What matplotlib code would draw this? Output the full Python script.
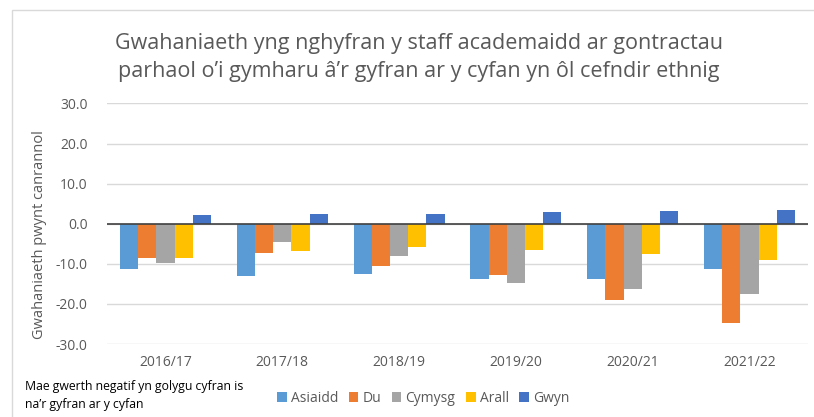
import numpy as np
import matplotlib
matplotlib.use("Agg")
import matplotlib.pyplot as plt
from matplotlib.patches import Rectangle

# data
years = ["2016/17", "2017/18", "2018/19", "2019/20", "2020/21", "2021/22"]
series_names = ["Asiaidd", "Du", "Cymysg", "Arall", "Gwyn"]
asiaidd = [-11.2, -13.1, -12.5, -13.7, -13.7, -11.4]
du = [-8.6, -7.4, -10.6, -12.8, -18.9, -24.7]
cymysg = [-9.9, -4.6, -8.1, -14.9, -16.2, -17.5]
arall = [-8.5, -6.8, -5.8, -6.6, -7.5, -9.0]
gwyn = [2.1, 2.3, 2.4, 2.9, 3.1, 3.3]
colors = ["#5B9BD5", "#ED7D31", "#A5A5A5", "#FFC000", "#4472C4"]

plt.rcParams['font.family'] = ['Open Sans', 'DejaVu Sans']
txt = "#595959"

fig = plt.figure(figsize=(8.14, 4.17), dpi=100)
ax = fig.add_axes([0.1315, 0.175, 0.8611, 0.577])

x = np.arange(len(years))
w = 0.156
for i, (vals, name, c) in enumerate(zip([asiaidd, du, cymysg, arall, gwyn], series_names, colors)):
    ax.bar(x + (i - 2) * w, vals, w, color=c, label=name, zorder=2)

ax.set_xlim(-0.5, len(years) - 0.5)
ax.set_ylim(-30, 30)
ax.set_yticks(np.arange(-30, 31, 10))
ax.set_yticklabels([f"{v:.1f}" for v in np.arange(-30, 31, 10)])
ax.set_xticks(x)
ax.set_xticklabels(years)
ax.tick_params(length=0, colors=txt, labelsize=10)
ax.tick_params(axis='y', pad=14)
ax.tick_params(axis='x', pad=8)
ax.grid(axis='y', color="#D9D9D9", linewidth=1, zorder=0)
ax.axhline(0, color="#404040", linewidth=1.2, zorder=3)
for s in ax.spines.values():
    s.set_visible(False)

fig.text(0.515, 0.862, "Gwahaniaeth yng nghyfran y staff academaidd ar gontractau\n"
         "parhaol o\u2019i gymharu \u00e2\u2019r gyfran ar y cyfan yn \u00f4l cefndir ethnig",
         ha="center", va="center", fontsize=15.5, color=txt, linespacing=1.4)
fig.text(0.049, 0.437, "Gwahaniaeth pwynt canrannol", rotation=90, ha="center",
         va="center", fontsize=10.5, color=txt)

fig.legend(loc="center", bbox_to_anchor=(0.52, 0.045), ncol=5, frameon=False,
           fontsize=10, handlelength=0.7, handleheight=0.7, handletextpad=0.3,
           columnspacing=0.75, labelcolor=txt)
fig.text(0.031, 0.052, "Mae gwerth negatif yn golygu cyfran is\nna\u2019r gyfran ar y cyfan",
         ha="left", va="center", fontsize=8.8, color="black", linespacing=1.45)

fig.patches.append(Rectangle((12 / 814, -0.1), 1.2, 1 - 10 / 417 + 0.1,
                             transform=fig.transFigure, fill=False,
                             edgecolor="#D9D9D9", linewidth=1))

fig.savefig("out.png", dpi=100)
